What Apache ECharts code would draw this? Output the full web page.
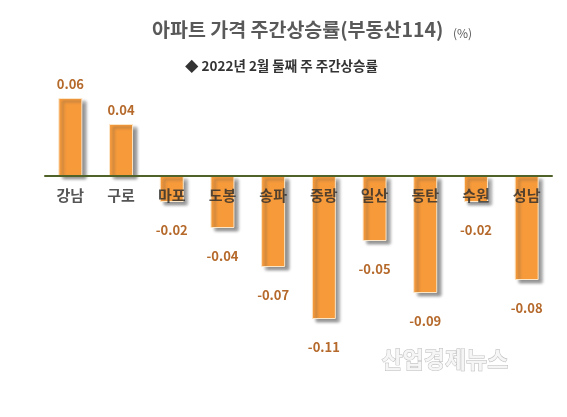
<!DOCTYPE html>
<html><head><meta charset="utf-8">
<script src="https://cdn.jsdelivr.net/npm/echarts@6/dist/echarts.min.js"></script>
<style>html,body{margin:0;padding:0;background:#fff}#c{width:567px;height:417px}</style>
</head><body><div id="c"></div>
<script>
const categories = ['강남','구로','마포','도봉','송파','중랑','일산','동탄','수원','성남'];
const values = [0.06, 0.04, -0.02, -0.04, -0.07, -0.11, -0.05, -0.09, -0.02, -0.08];
const titleText = '아파트 가격 주간상승률(부동산114)';
const unitText = '(%)';
const subtitleText = '◆ 2022년 2월 둘째 주 주간상승률';
const watermark = '산업경제뉴스';

const chart = echarts.init(document.getElementById('c'));
const font = '"Noto Sans CJK KR", "Noto Sans", sans-serif';
chart.setOption({
  animation: false,
  backgroundColor: '#fff',
  graphic: [
    {type:'text', left:152, top:20, style:{text:titleText, font:'bold 19.5px '+font, fill:'#595959'}},
    {type:'text', left:453, top:27, style:{text:unitText, font:'12px '+font, fill:'#595959'}},
    {type:'text', left:185, top:59, style:{text:subtitleText, font:'bold 13.5px '+font, fill:'#333'}},
    {type:'text', left:381, top:347, z:100, style:{text:watermark, font:'bold 23px '+font, fill:'rgba(245,245,245,0.95)', stroke:'rgba(175,175,175,0.9)', lineWidth:0.9}}
  ],
  grid: {left:45, right:15, top:72, bottom:85},
  xAxis: {
    type:'category', data:categories, z:10,
    axisLine:{onZero:true, lineStyle:{color:'#4F6228', width:2}},
    axisTick:{show:false},
    axisLabel:{show:false}
  },
  yAxis: {type:'value', min:-0.12, max:0.08, show:false, splitLine:{show:false}},
  series: [{
    type:'bar', barWidth:24,
    data: values.map(v => ({
      value:v,
      label:{position: v >= 0 ? 'top' : 'bottom', distance: v >= 0 ? 7 : 22}
    })),
    itemStyle:{color:'#F79A3A', borderColor:'#FBE6C8', borderWidth:1,
      shadowColor:'rgba(80,80,80,0.65)', shadowBlur:3, shadowOffsetX:4, shadowOffsetY:3},
    label:{show:true, formatter: p => p.value.toFixed(2), color:'#B5692B', fontWeight:'bold', fontSize:13, fontFamily:font}
  }, {
    type:'scatter', z:20, symbolSize:0, silent:true,
    data: categories.map(c => [c, 0]),
    label:{show:true, position:'bottom', distance:12, formatter: p => p.value[0],
      fontSize:15, fontWeight:'bold', color:'#2b2b2b', fontFamily:font}
  }]
});
</script></body></html>
